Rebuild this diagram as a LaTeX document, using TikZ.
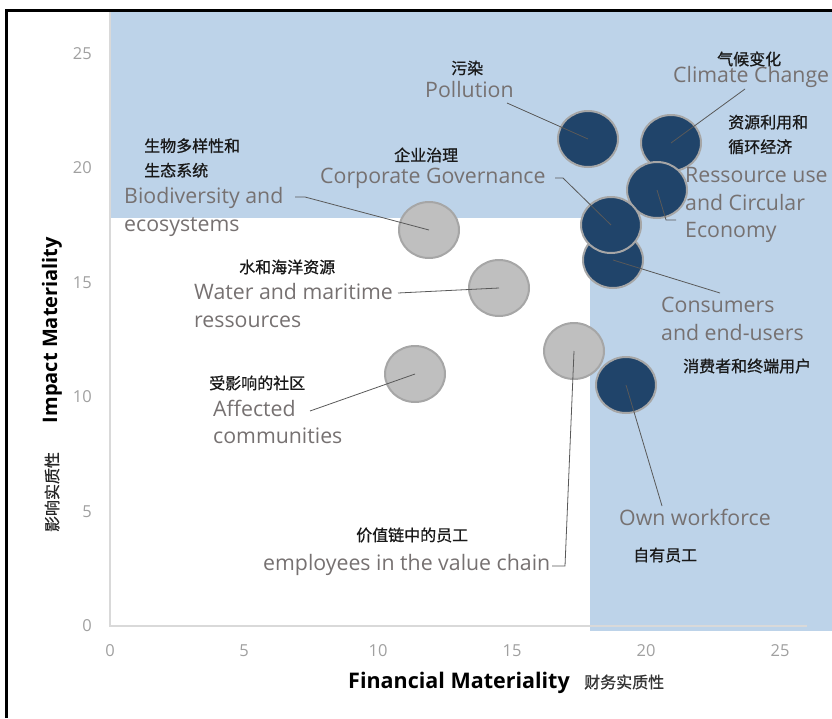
\documentclass[tikz,border=0pt]{standalone}
\usepackage{fontspec}
\setmainfont{Open Sans}
\newfontfamily\cjk{Noto Sans CJK SC}[FakeBold=0.8]
\usetikzlibrary{shapes.geometric}
\definecolor{zoneblue}{RGB}{189,211,233}
\definecolor{navy}{RGB}{32,68,106}
\definecolor{rimgray}{RGB}{166,166,166}
\definecolor{softgray}{RGB}{191,191,191}
\definecolor{lblgray}{RGB}{118,113,113}
\definecolor{leadgray}{RGB}{89,89,89}
\definecolor{tickgray}{RGB}{160,160,160}
\definecolor{axgray}{RGB}{217,217,217}

\begin{document}
\begin{tikzpicture}[x=1pt, y=-1pt,
  hot/.style={ellipse, fill=navy, draw=rimgray, line width=2pt, minimum width=60pt, minimum height=56pt, inner sep=0},
  cool/.style={hot, fill=softgray},
  en/.style={anchor=west, text=lblgray, align=left, font=\fontsize{21.3}{27.5}\selectfont, inner sep=0},
  zh/.style={anchor=west, text=black!90, align=left, font=\cjk\fontsize{16}{24.6}\selectfont, inner sep=0},
  lead/.style={draw=leadgray, line width=0.8pt},
  ticklbl/.style={text=tickgray, font=\fontsize{16.5}{19}\selectfont, inner sep=0}]
\useasboundingbox (0,0) rectangle (832,718);
\fill[zoneblue] (110,12) rectangle (832,218);
\fill[zoneblue] (590,218) rectangle (832,631);
\draw[axgray, line width=1.5pt] (110,12) -- (110,626) -- (807,626);
\draw[line width=3pt] (6.7,718) -- (6.7,10.7) -- (832,10.7);
\foreach \v in {0,5,...,25} {
  \node[ticklbl, anchor=east] (yt\v) at ({92},{626-22.9*\v}) {\v};
  \node[ticklbl] (xt\v) at ({110+26.8*\v},{651}) {\v};
}
\node[hot] (climate) at (671,143) {};
\node[hot] (resource) at (657,190) {};
\node[hot] (consumers) at (613,260) {};
\node[hot] (governance) at (611,225) {};
\node[hot] (pollution) at (588,139) {};
\node[hot] (workforce) at (626,385) {};
\node[cool] (biodiv) at (429,230) {};
\node[cool] (water) at (499,288) {};
\node[cool] (valuechain) at (574,351) {};
\node[cool] (communities) at (415,374) {};
\node[zh] (pollution-zh) at (451,68) {污染};
\node[en] (pollution-en) at (425,90) {Pollution};
\node[zh] (climate-zh) at (717,59) {气候变化};
\node[en] (climate-en) at (673,77) {Climate Change};
\node[zh] (resource-zh) at (728,134.5) {资源利用和\\循环经济};
\node[en] (resource-en) at (685,205) {Ressource use\\and Circular\\Economy};
\node[zh] (governance-zh) at (394,155) {企业治理};
\node[en] (governance-en) at (320,178) {Corporate Governance};
\node[zh] (biodiv-zh) at (144,158) {生物多样性和\\生态系统};
\node[en] (biodiv-en) at (124,212) {Biodiversity and\\ecosystems};
\node[zh] (water-zh) at (239,267) {水和海洋资源};
\node[en] (water-en) at (194,305.5) {Water and maritime\\ressources};
\node[en] (consumers-en) at (661,319) {Consumers\\and end-users};
\node[zh] (consumers-zh) at (683,366) {消费者和终端用户};
\node[zh] (communities-zh) at (209,383) {受影响的社区};
\node[en] (communities-en) at (213,422) {Affected\\communities};
\node[en] (workforce-en) at (619,517) {Own workforce};
\node[zh] (workforce-zh) at (633,555) {自有员工};
\node[zh] (valuechain-zh) at (356,535) {价值链中的员工};
\node[en] (valuechain-en) at (263,565) {employees in the value chain};
\coordinate (pollution-tip) at (507,103);
\coordinate (climate-tip) at (745,89);
\coordinate (resource-tip) at (676,220);
\coordinate (governance-tip) at (555,178);
\coordinate (consumers-tip) at (720,293);
\coordinate (biodiv-tip) at (295,197);
\coordinate (water-tip) at (398,293);
\coordinate (communities-tip) at (310,411);
\coordinate (valuechain-tip) at (552,566);
\coordinate (workforce-tip) at (662,506);
\draw[lead] (pollution-tip) -- (pollution.center);
\draw[lead] (climate-tip) -- (climate.center);
\draw[lead] (resource.center) -- (666,220) -- (resource-tip);
\draw[lead] (governance-tip) -- (563,178) -- (governance.center);
\draw[lead] (consumers.center) -- (consumers-tip);
\draw[lead] (biodiv-tip) -- (305,197) -- (biodiv.center);
\draw[lead] (water-tip) -- (water.center);
\draw[lead] (communities-tip) -- (communities.center);
\draw[lead] (valuechain.center) -- (565,566) -- (valuechain-tip);
\draw[lead] (workforce.center) -- (workforce-tip);
\node[font=\bfseries\fontsize{20}{24}\selectfont, rotate=90, inner sep=0] (impact-en) at (52,330) {Impact Materiality};
\node[font=\cjk\fontsize{16}{20}\selectfont, text=black!85, rotate=90, inner sep=0] (impact-zh) at (52,492) {影响实质性};
\node[font=\bfseries\fontsize{21.5}{26}\selectfont, anchor=west, inner sep=0] (financial-en) at (348,683) {Financial Materiality};
\node[font=\cjk\fontsize{16}{20}\selectfont, text=black!80, anchor=west, inner sep=0] (financial-zh) at (584,682) {财务实质性};
\end{tikzpicture}
\end{document}
